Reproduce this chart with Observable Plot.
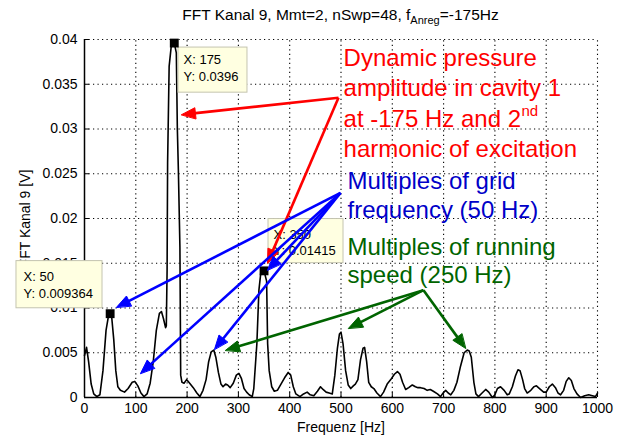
<!DOCTYPE html>
<html><head><meta charset="utf-8">
<script src="https://cdn.jsdelivr.net/npm/d3@7"></script>
<script src="https://cdn.jsdelivr.net/npm/@observablehq/plot@0.6"></script>
<style>
body{margin:0;background:#fff;}
#wrap{position:relative;width:622px;height:443px;font-family:Arial,"Liberation Sans",Helvetica,sans-serif;}
#title{position:absolute;top:6px;left:84px;width:513px;text-align:center;font-size:15.5px;color:#000;white-space:nowrap;z-index:2;}
#title sub{font-size:11px;vertical-align:-4px;line-height:0;}
#wrap svg{position:absolute;left:0;top:0;}
</style></head><body>
<div id="wrap"><div id="title">FFT Kanal 9, Mmt=2, nSwp=48, f<sub>Anreg</sub>=-175Hz</div></div>
<script>
// ---- data ----
const freqHz = [
 0,4,8,13,18,24,30,36,42,47,
 50,53,57,61,65,70,78,85,93,98,
 104,110,116,122,128,134,140,146,150,154,
 158,159.5,161,162,165,169,175,179,181,183,
 186,187.5,190,194,199,205,212,219,225,231,
 237,242,247,252,256,261,266,270,275,279,
 284,290,296,301,306,311,316,321,327,330,
 336,340,344,350,355,357,360,365,370,376,
 383,390,397,402,407,412,420,427,434,440,
 447,454,460,465,471,477,483,488,493,497,
 500,504,509,514,519,524,528,533,538,543,
 546,550,554,559,564,570,577,583,590,597,
 604,610,615,620,626,632,639,645,650,655,
 662,668,674,680,688,694,699,704,709,714,
 720,726,733,740,746,750,754,759,763,768,
 775,782,788,795,800,805,811,818,824,828,
 834,840,845,849,854,858,863,870,876,881,
 887,895,900,906,912,918,923,928,934,939,
 944,949,954,960,967,975,983,990,996,1000];
const amplitudeV = [
 0.0047,0.0056,0.0040,0.0015,0.0004,0.0001,0.0003,0.0030,0.0075,0.0092,
 0.009364,0.0090,0.0065,0.0030,0.0012,0.0008,0.0006,0.0010,0.0017,0.0018,
 0.0013,0.0005,0.0001,0.0004,0.0016,0.0040,0.0075,0.0094,0.0096,0.0088,
 0.0078,0.0080,0.0142,0.0262,0.0370,0.0392,0.0396,0.0385,0.0300,0.0254,
 0.0168,0.0025,0.0017,0.0016,0.0020,0.0016,0.0011,0.0005,0.0001,0.0008,
 0.0020,0.0040,0.0051,0.0053,0.0045,0.0028,0.0015,0.0012,0.0015,0.0014,
 0.0011,0.0016,0.0025,0.0027,0.0021,0.0010,0.0006,0.0003,0.0001,0.0010,
 0.0060,0.0120,0.0141,0.01415,0.0130,0.0060,0.0030,0.0012,0.0007,0.0008,
 0.0015,0.0022,0.0028,0.0025,0.0012,0.0004,0.0001,0.0004,0.0006,0.0003,
 0.0002,0.0007,0.0012,0.0009,0.0006,0.0005,0.0004,0.0025,0.0055,0.0071,
 0.0073,0.0060,0.0030,0.0014,0.0010,0.0013,0.0015,0.0020,0.0042,0.0055,
 0.0056,0.0040,0.0017,0.0012,0.0010,0.0005,0.0001,0.0006,0.0015,0.0020,
 0.0026,0.0029,0.0026,0.0017,0.0009,0.0011,0.0014,0.0012,0.0011,0.0011,
 0.0010,0.0008,0.0009,0.0007,0.0004,0.0001,0.0005,0.0008,0.0005,0.0003,
 0.0008,0.0017,0.0035,0.0050,0.0053,0.0052,0.0045,0.0017,0.0004,0.0001,
 0.0005,0.0009,0.0006,0.0000,0.0003,0.0010,0.0012,0.0008,0.0003,0.0004,
 0.0012,0.0024,0.0031,0.0030,0.0020,0.0010,0.0005,0.0008,0.0012,0.0013,
 0.0010,0.0006,0.0006,0.0012,0.0015,0.0011,0.0005,0.0003,0.0008,0.0018,
 0.0022,0.0019,0.0010,0.0004,0.0000,0.0002,0.0003,0.0002,0.0001,0.0005];
const xTicks = [0,100,200,300,400,500,600,700,800,900,1000];
const yTicks = [0,0.005,0.01,0.015,0.02,0.025,0.03,0.035,0.04];
const tipFreq = [50,175,350];
const tipAmp = [0.009364,0.0396,0.01415];
const tipLabels = ["X: 50\nY: 0.009364","X: 175\nY: 0.0396","X: 350\nY: 0.01415"];
const redLines = ["Dynamic pressure","amplitude in cavity 1","at -175 Hz and 2","harmonic of excitation"];
const blueLines = ["Multiples of grid","frequency (50 Hz)"];
const greenLines = ["Multiples of running","speed (250 Hz)"];

// ---- annotation placement (data coordinates) ----
const tipBoxes = [
 {x1:-132.6,x2:35.1,y1:0.00997,y2:0.01524,tx:-118.9,ty:0.01266},
 {x1:183.2,x2:317.7,y1:0.03406,y2:0.03910,tx:193,ty:0.03692},
 {x1:358.7,x2:504.9,y1:0.01501,y2:0.01994,tx:368.4,ty:0.01742}];
const redPos = {x:505, y:[0.03709,0.03367,0.03025,0.02683]};
const bluePos = {x:512.7, y:[0.02327,0.02006]};
const greenPos = {x:512.7, y:[0.01591,0.01277]};
const arrowGroups = [
 {color:"#ff0000", from:[495.1,0.0335], to:[[189.1,0.0316],[356.7,0.01501]]},
 {color:"#0000ff", from:[499.0,0.02286], to:[[62.4,0.01008],[109.2,0.00269],[253.4,0.00538],[356.7,0.01423]]},
 {color:"#006400", from:[660.8,0.01199], to:[[274.9,0.00527],[514.6,0.00773],[742.7,0.00549]]}];

const W = 622, H = 443, mL = 84, mR = 25, mT = 39, mB = 46;
const xDomain = [0,1000], yDomain = [0,0.04];
const px = d3.scaleLinear(xDomain,[mL,W-mR]);
const py = d3.scaleLinear(yDomain,[H-mB,mT]);

const spectrum = freqHz.map((f,i)=>({f, v:amplitudeV[i]}));
const font = 'Arial, "Liberation Sans", Helvetica, sans-serif';

// arrow geometry
function buildArrow(from,to,L=14,Wd=11){
  const x1=px(from[0]), y1=py(from[1]), x2=px(to[0]), y2=py(to[1]);
  const dx=x2-x1, dy=y2-y1, len=Math.hypot(dx,dy), ux=dx/len, uy=dy/len;
  const bx=x2-ux*(L-2), by=y2-uy*(L-2);
  const hx=x2-ux*L, hy=y2-uy*L, nx=-uy, ny=ux;
  return {
    link:{x1:from[0],y1:from[1],x2:px.invert(bx),y2:py.invert(by)},
    tri:[[x2,y2],[hx+nx*Wd/2,hy+ny*Wd/2],[hx-nx*Wd/2,hy-ny*Wd/2]].map(([a,b])=>({x:px.invert(a),y:py.invert(b)}))
  };
}
const arrowMarks = [];
arrowGroups.forEach(g=>{
  const built = g.to.map(t=>buildArrow(g.from,t));
  arrowMarks.push(Plot.link(built.map(b=>b.link),{x1:"x1",y1:"y1",x2:"x2",y2:"y2",stroke:g.color,strokeWidth:2.6}));
  built.forEach(b=>arrowMarks.push(Plot.line(b.tri,{x:"x",y:"y",fill:g.color,stroke:g.color,strokeWidth:1,curve:"linear-closed"})));
});

const chart = Plot.plot({
  width:W, height:H, marginLeft:mL, marginRight:mR, marginTop:mT, marginBottom:mB,
  style:{fontFamily:font, fontSize:"14px", background:"transparent", color:"#000", overflow:"visible"},
  x:{domain:xDomain, ticks:xTicks, tickSize:0, tickPadding:6, label:null, tickFormat:d=>String(d)},
  y:{domain:yDomain, ticks:yTicks, tickSize:0, tickPadding:7, label:null, tickFormat:d=>String(d)},
  marks:[
    Plot.ruleX(xTicks.slice(1),{x:d=>d, y1:0, y2:0.04, stroke:"#000", strokeWidth:1.1, strokeDasharray:"1.2,3.3"}),
    Plot.ruleY(yTicks.slice(1),{y:d=>d, x1:0, x2:1000, stroke:"#000", strokeWidth:1.1, strokeDasharray:"1.2,3.3"}),
    Plot.line(spectrum,{x:"f", y:"v", stroke:"#000", strokeWidth:1.6}),
    Plot.ruleX([0],{x:d=>d, y1:0, y2:0.04, stroke:"#000", strokeWidth:1.5}),
    Plot.ruleY([0],{y:d=>d, x1:0, x2:1000, stroke:"#000", strokeWidth:1.5}),
    Plot.ruleY(yTicks,{y:d=>d, x1:0, x2:10, stroke:"#000", strokeWidth:1}),
    Plot.ruleX(xTicks,{x:d=>d, y1:0, y2:0.00056, stroke:"#000", strokeWidth:1}),
    Plot.text(["Frequenz [Hz]"],{frameAnchor:"bottom", dy:34, text:d=>d, fontSize:14, fill:"#000"}),
    Plot.text(["FFT Kanal 9 [V]"],{frameAnchor:"left", dx:-59, rotate:-90, textAnchor:"middle", text:d=>d, fontSize:14, fill:"#000"}),
    Plot.rect(tipBoxes,{x1:"x1",x2:"x2",y1:"y1",y2:"y2", fill:"#ffffe1", stroke:"#c4c4b0", strokeWidth:1}),
    Plot.text(tipLabels,{x:(d,i)=>tipBoxes[i].tx, y:(d,i)=>tipBoxes[i].ty, text:d=>d, textAnchor:"start", lineAnchor:"middle", lineHeight:1.3, fontSize:13, fill:"#000"}),
    Plot.dot(tipFreq,{x:d=>d, y:(d,i)=>tipAmp[i], symbol:"square", r:5, fill:"#000", stroke:"none"}),
    ...arrowMarks,
    Plot.text(redLines,{x:redPos.x, y:(d,i)=>redPos.y[i], text:d=>d, textAnchor:"start", lineAnchor:"bottom", fontSize:24, fill:"#ff0000"}),
    Plot.text(["nd"],{x:851.8, y:0.03148, text:d=>d, textAnchor:"start", lineAnchor:"bottom", fontSize:15, fill:"#ff0000"}),
    Plot.text(blueLines,{x:bluePos.x, y:(d,i)=>bluePos.y[i], text:d=>d, textAnchor:"start", lineAnchor:"bottom", fontSize:24, fill:"#0000c8"}),
    Plot.text(greenLines,{x:greenPos.x, y:(d,i)=>greenPos.y[i], text:d=>d, textAnchor:"start", lineAnchor:"bottom", fontSize:24, fill:"#006400"})
  ]
});
document.getElementById("wrap").appendChild(chart);
</script>
</body></html>
